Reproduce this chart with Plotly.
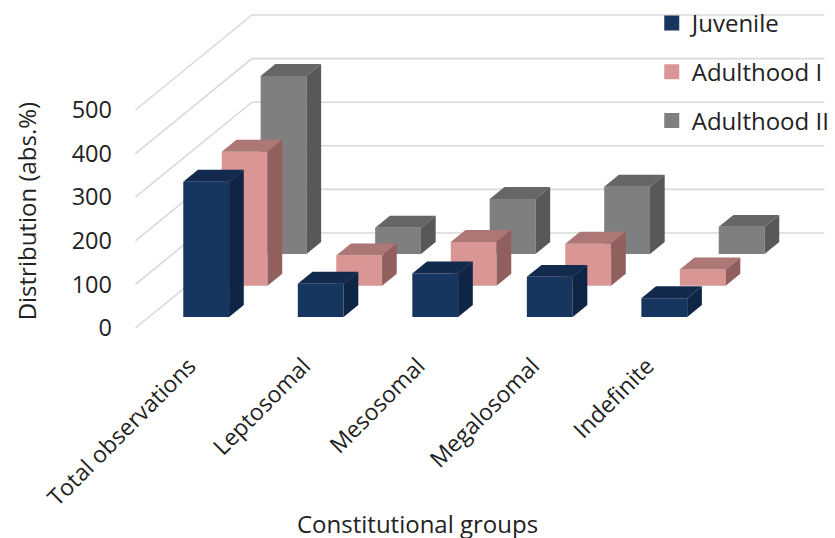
import plotly.graph_objects as go

categories = ["Total observations", "Leptosomal", "Mesosomal", "Megalosomal", "Indefinite"]
series_names = ["Juvenile", "Adulthood I", "Adulthood II"]
juvenile = [310, 76, 100, 92, 43]
adulthood_1 = [307, 69, 100, 96, 37]
adulthood_2 = [408, 60, 126, 154, 62]
y_ticks = [0, 100, 200, 300, 400, 500]

values = [juvenile, adulthood_1, adulthood_2]
front = ["#17365f", "#d99694", "#7f7f7f"]
top = ["#122a4e", "#ad7775", "#666666"]
side = ["#0e2545", "#915f5d", "#585858"]

# oblique projection of the 3D box, expressed in axis units
PX_X, PX_Y = 115.0, 0.436       # pixels per category, pixels per value
DX, DY = 117 / PX_X, 95 / PX_Y  # axis shift for a full unit of depth
BAR_W = 46 / PX_X
DEPTH_START = [0.116, 0.446, 0.78]
BAR_D = 0.126
W, H = 835, 538
L, R, T, B = 113, 0, 0, 191
plot_w, plot_h = W - L - R, H - T - B


def proj(x, v, d):
    return x + d * DX, v + d * DY


def poly(points, color):
    xs, ys = zip(*[proj(*p) for p in points + points[:1]])
    return go.Scatter(x=xs, y=ys, mode="lines", fill="toself", fillcolor=color,
                      line=dict(width=0), hoverinfo="skip", showlegend=False)


fig = go.Figure()

# walls' gridlines
for t in y_ticks:
    pts = [proj(-0.5, t, 0), proj(-0.5, t, 1), proj(4.5, t, 1)]
    fig.add_trace(go.Scatter(x=[p[0] for p in pts], y=[p[1] for p in pts], mode="lines",
                             line=dict(color="#d9d9d9", width=1.6), hoverinfo="skip",
                             showlegend=False))

# bars, back series first
for s in [2, 1, 0]:
    d0 = DEPTH_START[s]
    d1 = d0 + BAR_D
    for i, v in enumerate(values[s]):
        x0, x1 = i - BAR_W / 2, i + BAR_W / 2
        fig.add_trace(poly([(x0, 0, d0), (x1, 0, d0), (x1, v, d0), (x0, v, d0)], front[s]))
        fig.add_trace(poly([(x0, v, d0), (x1, v, d0), (x1, v, d1), (x0, v, d1)], top[s]))
        fig.add_trace(poly([(x1, 0, d0), (x1, 0, d1), (x1, v, d1), (x1, v, d0)], side[s]))

# legend keys
for s, name in enumerate(series_names):
    fig.add_trace(go.Scatter(x=[None], y=[None], mode="markers", name=name, legendgroup=name,
                             marker=dict(symbol="square", size=15, color=front[s])))

x_left = (L - 193) / PX_X
y_bottom = (328 - (H - B)) / PX_Y

fig.update_layout(
    width=W, height=H, autosize=False,
    margin=dict(l=L, r=R, t=T, b=B, pad=0),
    plot_bgcolor="white", paper_bgcolor="white",
    font=dict(family="Open Sans", color="#222222"),
    xaxis=dict(range=[x_left, x_left + plot_w / PX_X], tickvals=[i - 0.03 for i in range(5)],
               ticktext=categories, tickangle=-45, tickfont=dict(size=23), showgrid=False,
               zeroline=False, showline=False, ticks=""),
    yaxis=dict(range=[y_bottom, y_bottom + plot_h / PX_Y], tickvals=y_ticks, showgrid=False,
               zeroline=False, showline=False, ticks="", tickfont=dict(size=23.5)),
    legend=dict(x=(654 - L) / plot_w, y=(plot_h - 1) / plot_h, xanchor="left", yanchor="top",
                bgcolor="rgba(0,0,0,0)", font=dict(size=24), tracegroupgap=14.5, itemclick=False,
                itemdoubleclick=False),
    annotations=[
        dict(text="Constitutional groups", xref="paper", yref="paper", x=(419 - L) / plot_w,
             y=(plot_h - 523) / plot_h, xanchor="center", yanchor="middle", showarrow=False,
             font=dict(size=24)),
        dict(text="Distribution (abs.%)", xref="paper", yref="paper", x=(26 - L) / plot_w,
             y=(plot_h - 211) / plot_h, xanchor="center", yanchor="middle", showarrow=False,
             textangle=-90, font=dict(size=24)),
    ],
)
fig.write_html("out.html", config={"displayModeBar": False},
               post_script="document.body.style.margin='0';")
